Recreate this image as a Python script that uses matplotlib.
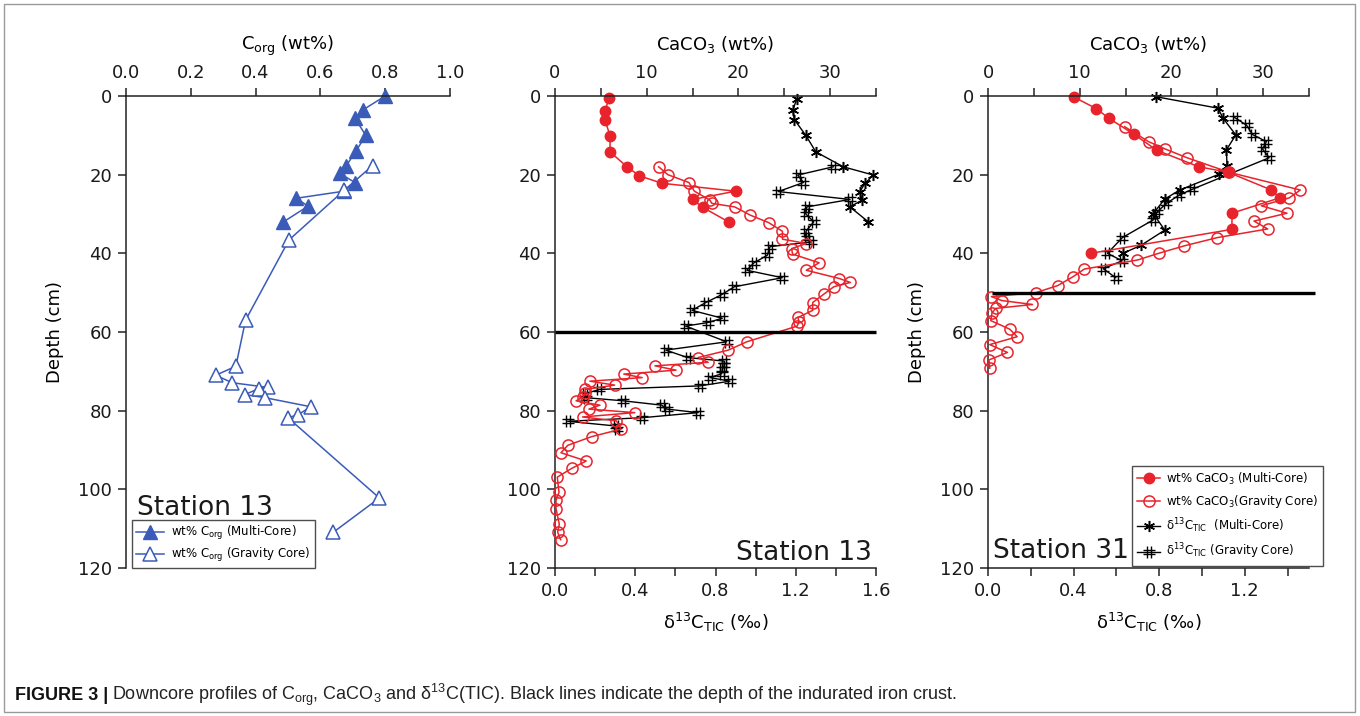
import matplotlib
matplotlib.use("Agg")
import matplotlib.pyplot as plt
from matplotlib.path import Path
from matplotlib.patches import Rectangle

plt.rcParams['font.family'] = 'DejaVu Sans'
plt.rcParams['mathtext.default'] = 'regular'

# ---- Station 13, C_org (wt%) ----
corg_mc_depth = [0, 3.6, 5.7, 10, 14, 17.7, 19.7, 22, 24.2, 26, 28, 32]
corg_mc = [0.80, 0.73, 0.707, 0.74, 0.71, 0.68, 0.66, 0.707, 0.673, 0.525, 0.562, 0.486]
corg_gc_depth = [17.7, 24, 36.6, 57, 68.7, 71, 72.9, 74.1, 74.4, 75.9, 76.7, 79, 81, 81.8, 102.2, 110.9]
corg_gc = [0.761, 0.673, 0.503, 0.369, 0.339, 0.277, 0.328, 0.439, 0.41, 0.367, 0.429, 0.57, 0.532, 0.5, 0.782, 0.64]

# ---- Station 13, CaCO3 (wt%) ----
cc13_mc_depth = [0.6, 3.7, 6.1, 10.1, 14.2, 18.1, 20.3, 22.2, 24.2, 26.3, 28.3, 32.1]
cc13_mc = [5.9, 5.45, 5.45, 6.0, 6.0, 7.9, 9.2, 11.7, 19.7, 15.0, 16.1, 19.0]
cc13_gc_depth = [18, 20, 22, 24.2, 26.5, 27.3, 28.2, 30.3, 32.2, 34.4, 36.4, 37.5, 38.8, 40.2,
                 42.4, 44.3, 46.4, 47.4, 48.5, 50.4, 52.5, 54.5, 56.3, 57.4, 58.5, 62.5, 64.6,
                 66.5, 67.7, 68.6, 69.7, 70.7, 71.6, 72.5, 73.5, 74.6, 75.5, 76.5, 77.5, 78.6,
                 79.6, 80.5, 81.6, 82.6, 84.7, 86.6, 88.8, 90.7, 92.8, 94.7, 96.9, 100.8, 102.8,
                 104.9, 108.9, 110.9, 112.8]
cc13_gc = [11.3, 12.3, 14.6, 15.2, 16.9, 17.1, 19.6, 21.3, 23.3, 24.8, 24.8, 27.4, 25.8, 25.9,
           28.8, 27.4, 31.0, 32.2, 30.4, 29.3, 28.1, 28.1, 26.5, 26.6, 26.4, 20.9, 18.9,
           15.6, 16.7, 10.9, 13.2, 7.5, 9.5, 3.8, 6.5, 3.3, 3.3, 3.1, 2.3, 4.9,
           3.7, 8.7, 3.0, 6.7, 7.2, 4.0, 1.4, 0.65, 3.4, 1.8, 0.25, 0.44, 0.11,
           0.11, 0.47, 0.29, 0.62]

# ---- Station 13, d13C TIC (permil) ----
d13_mc_depth = [0.8, 3.6, 6, 10, 14.2, 18, 20.1, 22.2, 24.3, 26.5, 28.2, 32]
d13_mc = [1.205, 1.185, 1.193, 1.25, 1.30, 1.437, 1.587, 1.545, 1.52, 1.529, 1.47, 1.562]
d13_gc_depth = [18, 20.1, 22, 24.3, 26.3, 28.2, 30, 32, 34.4, 36.2, 37.1, 38.3, 40.5, 42.4,
                44.3, 46.2, 48.5, 50.5, 52.5, 54.5, 56.5, 57.6, 58.5, 62.5, 64.6, 66.5, 67.4,
                68.4, 69.5, 70.6, 71.6, 72.5, 73.7, 74.6, 75.7, 76.7, 77.5, 78.6, 79.6, 80.5,
                81.8, 82.7, 83.9, 84.6]
d13_gc = [1.387, 1.21, 1.238, 1.113, 1.471, 1.255, 1.25, 1.29, 1.251, 1.255, 1.278, 1.072, 1.058, 0.992,
          0.956, 1.133, 0.894, 0.831, 0.752, 0.683, 0.834, 0.761, 0.651, 0.856, 0.552, 0.661, 0.844,
          0.844, 0.834, 0.831, 0.773, 0.872, 0.723, 0.221, 0.15, 0.155, 0.341, 0.532, 0.557, 0.714,
          0.432, 0.063, 0.304, 0.307]

# ---- Station 31, CaCO3 (wt%) ----
cc31_mc_depth = [0.3, 3.2, 5.7, 9.7, 13.8, 18, 19.4, 23.9, 25.9, 29.8, 33.9, 40]
cc31_mc = [9.4, 11.8, 13.2, 15.9, 18.4, 23.0, 26.2, 30.9, 31.8, 26.6, 26.6, 11.2]
cc31_gc_depth = [7.8, 11.6, 13.5, 15.7, 19.4, 23.9, 25.9, 27.9, 29.8, 31.8, 33.8, 36, 38.1, 40,
                 41.7, 44, 45.9, 48.2, 50, 51, 52, 53, 54, 55.1, 57.1, 59.3, 61.2, 63.2, 65.2,
                 67.1, 69.2]
cc31_gc = [14.9, 17.5, 19.35, 21.7, 26.3, 34.05, 32.85, 29.8, 32.6, 29.0, 30.5, 25.0, 21.4, 18.6,
           16.3, 10.5, 9.3, 7.6, 5.2, 0.37, 1.5, 4.85, 0.84, 0.44, 0.3, 2.38, 3.18, 0.19, 2.12,
           0.11, 0.19]

# ---- Station 31, d13C TIC (permil) ----
d31_mc_depth = [0.2, 3.1, 5.7, 9.9, 13.7, 17.7, 19.9, 23.9, 26.2, 29.9, 34.1, 37.9, 40]
d31_mc = [0.787, 1.075, 1.099, 1.158, 1.114, 1.117, 1.079, 0.896, 0.826, 0.772, 0.826, 0.717, 0.631]
d31_gc_depth = [5.5, 7.4, 9.8, 11.6, 13.5, 15.7, 23.7, 25.2, 27.3, 29.5, 31.5, 36, 40, 41.9, 43.9, 46.2]
d31_gc = [1.153, 1.208, 1.236, 1.301, 1.283, 1.314, 0.955, 0.893, 0.834, 0.79, 0.772, 0.628, 0.558,
          0.627, 0.538, 0.597]

crust_13 = 60
crust_31 = 50

blue = '#3a5bb8'
red = '#e8232b'
axcol = '#222222'

# hash-shaped marker for the gravity-core d13C series
hash_marker = Path([(-0.35, -1), (-0.35, 1), (0.35, -1), (0.35, 1),
                    (-1, -0.35), (1, -0.35), (-1, 0.35), (1, 0.35)],
                   [Path.MOVETO, Path.LINETO] * 4)
star_marker = (6, 2, 0)

W, H = 1360, 716
fig = plt.figure(figsize=(W / 100, H / 100), dpi=100)
fig.patches.append(Rectangle((0.003, 0.005), 0.993, 0.99, transform=fig.transFigure,
                             fill=False, edgecolor='#9a9a9a', lw=1.0))


def rect(left, right, top=96, bottom=568):
    return [left / W, 1 - bottom / H, (right - left) / W, (bottom - top) / H]


def tick_style(ax):
    ax.tick_params(direction='out', length=6, width=1.1, color=axcol,
                   labelsize=13, labelcolor='#1a1a1a', pad=4)
    ax.tick_params(which='minor', direction='out', length=6, width=1.1, color=axcol)
    for s in ax.spines.values():
        s.set_color(axcol)
        s.set_linewidth(1.1)


def depth_axis(ax, label=True):
    ax.set_ylim(120, 0)
    ax.set_yticks(range(0, 121, 20))
    if label:
        ax.set_ylabel('Depth (cm)', fontsize=13, labelpad=10)


# ---------------- Panel 1 ----------------
ax1 = fig.add_axes(rect(126, 450))
ax1.plot(corg_mc, corg_mc_depth, '-', color=blue, lw=1.1, marker='^', ms=10,
         mfc=blue, mec=blue, clip_on=False, label='wt% C$_{org}$ (Multi-Core)')
ax1.plot(corg_gc, corg_gc_depth, '-', color=blue, lw=1.1, marker='^', ms=10,
         mfc='white', mec=blue, mew=1.1, clip_on=False, label='wt% C$_{org}$ (Gravity Core)')
ax1.set_xlim(0, 1.0)
ax1.set_xticks([0, 0.2, 0.4, 0.6, 0.8, 1.0])
ax1.set_xticklabels(['0.0', '0.2', '0.4', '0.6', '0.8', '1.0'])
ax1.xaxis.tick_top()
ax1.xaxis.set_label_position('top')
ax1.set_xlabel('C$_{org}$ (wt%)', fontsize=13, labelpad=10)
depth_axis(ax1)
ax1.spines['right'].set_visible(False)
ax1.spines['bottom'].set_visible(False)
tick_style(ax1)
ax1.text(0.034, 0.112, 'Station 13', transform=ax1.transAxes, fontsize=19,
         color='#1a1a1a', va='baseline', ha='left')
leg1 = ax1.legend(loc='lower left', bbox_to_anchor=(0.018, 0.0), borderaxespad=0,
                  fontsize=8.5, frameon=True, fancybox=False, handlelength=2.4,
                  borderpad=0.35, labelspacing=0.3, handletextpad=0.6)
leg1.get_frame().set_edgecolor('#222222')
leg1.get_frame().set_linewidth(1.0)


def caco3_panel(left, right, dmax, dticks, cc_mc_d, cc_mc, cc_gc_d, cc_gc,
                d_mc_d, d_mc, d_gc_d, d_gc, crust, crust_x, ylab):
    axb = fig.add_axes(rect(left, right))
    axt = axb.twiny()
    axb.plot(d_mc, d_mc_d, '-', color='black', lw=1.0, marker=star_marker, ms=8,
             mec='black', mew=1.1, clip_on=False, label=r'$\delta^{13}$C$_{TIC}$  (Multi-Core)')
    axb.plot(d_gc, d_gc_d, '-', color='black', lw=1.0, marker=hash_marker, ms=8,
             mec='black', mew=1.0, clip_on=False, label=r'$\delta^{13}$C$_{TIC}$ (Gravity Core)')
    axt.plot(cc_mc, cc_mc_d, '-', color=red, lw=1.1, marker='o', ms=7.5,
             mfc=red, mec=red, clip_on=False, label='wt% CaCO$_3$ (Multi-Core)')
    axt.plot(cc_gc, cc_gc_d, '-', color=red, lw=1.1, marker='o', ms=8,
             mfc='none', mec=red, mew=1.1, clip_on=False, label='wt% CaCO$_3$(Gravity Core)')
    axt.plot(crust_x, [crust, crust], color='black', lw=2.4, clip_on=False,
             solid_capstyle='butt')

    axb.set_xlim(0, dmax)
    axb.set_xticks(dticks)
    axb.set_xticklabels(['%.1f' % v for v in dticks])
    axb.set_xticks([v + 0.2 for v in dticks if v + 0.2 <= dmax + 1e-9], minor=True)
    axb.set_xlabel(r'$\delta^{13}$C$_{TIC}$ (‰)', fontsize=13, labelpad=8)
    axt.set_xlim(0, 35)
    axt.set_xticks([0, 10, 20, 30])
    axt.set_xticks([5, 15, 25, 35], minor=True)
    axt.set_xlabel('CaCO$_3$ (wt%)', fontsize=13, labelpad=10)
    depth_axis(axb, ylab)
    axb.spines['right'].set_visible(False)
    axb.spines['top'].set_visible(False)
    for s in ['right', 'bottom', 'left']:
        axt.spines[s].set_visible(False)
    tick_style(axb)
    tick_style(axt)
    return axb, axt


# ---------------- Panel 2 ----------------
ax2b, ax2t = caco3_panel(555, 876, 1.6, [0.0, 0.4, 0.8, 1.2, 1.6],
                         cc13_mc_depth, cc13_mc, cc13_gc_depth, cc13_gc,
                         d13_mc_depth, d13_mc, d13_gc_depth, d13_gc,
                         crust_13, [0, 35], False)
ax2b.text(0.9875, 0.017, 'Station 13', transform=ax2b.transAxes, fontsize=19,
          color='#1a1a1a', va='baseline', ha='right')

# ---------------- Panel 3 ----------------
ax3b, ax3t = caco3_panel(988, 1309, 1.5, [0.0, 0.4, 0.8, 1.2],
                         cc31_mc_depth, cc31_mc, cc31_gc_depth, cc31_gc,
                         d31_mc_depth, d31_mc, d31_gc_depth, d31_gc,
                         crust_31, [0.4, 35.7], True)
ax3b.text(0.016, 0.021, 'Station 31', transform=ax3b.transAxes, fontsize=19,
          color='#1a1a1a', va='baseline', ha='left')
h_t, l_t = ax3t.get_legend_handles_labels()
h_b, l_b = ax3b.get_legend_handles_labels()
leg3 = ax3t.legend(h_t[:2] + h_b, l_t[:2] + l_b, loc='lower left',
                   bbox_to_anchor=(0.449, 0.004), borderaxespad=0, fontsize=8.5,
                   frameon=True, fancybox=False, handlelength=2.0, borderpad=0.4,
                   labelspacing=0.55, handletextpad=0.5)
leg3.get_frame().set_edgecolor('#222222')
leg3.get_frame().set_linewidth(1.0)

# ---------------- caption ----------------
cap_font = ['Liberation Sans Narrow', 'Liberation Sans', 'DejaVu Sans']
t1 = fig.text(0.011, 0.029, 'FIGURE 3 |', fontsize=13, fontweight='bold',
              family=cap_font, color='#111111', va='center')
fig.canvas.draw()
bb = t1.get_window_extent(fig.canvas.get_renderer())
fig.text(bb.x1 / W + 0.003, 0.029,
         r'Downcore profiles of C$_{org}$, CaCO$_3$ and $\delta^{13}$C(TIC). '
         'Black lines indicate the depth of the indurated iron crust.',
         fontsize=13, family=cap_font, color='#222222', va='center')

fig.savefig('out.png', dpi=100)
